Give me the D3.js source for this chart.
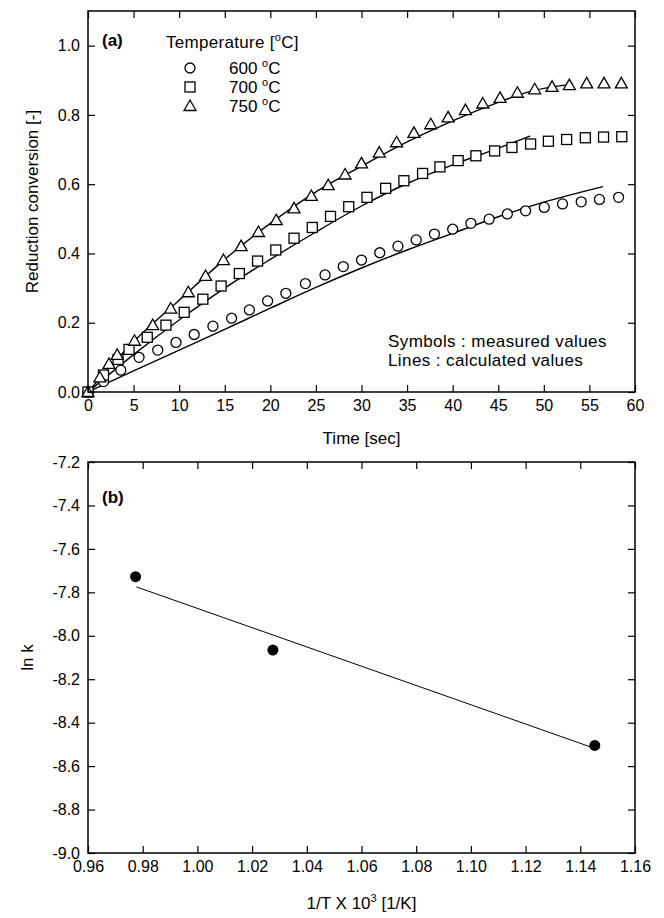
<!DOCTYPE html>
<html>
<head>
<meta charset="utf-8">
<script src="https://cdn.jsdelivr.net/npm/d3@7"></script>
<style>
  body { margin: 0; background: #fff; }
  svg { font-family: "Liberation Sans", Arial, sans-serif; }
</style>
</head>
<body>
<svg width="664" height="918"></svg>
<script>
// (a) measured conversion vs time
var t600 = [0, 1.7, 3.6, 5.6, 7.65, 9.65, 11.65, 13.7, 15.75, 17.7, 19.7, 21.7, 23.85, 26.0, 28.0, 30.0, 32.0, 34.0, 36.0, 38.0, 40.0, 42.0, 44.0, 46.0, 48.0, 50.05, 52.05, 54.1, 56.1, 58.2];
var v600 = [0, 0.030, 0.063, 0.100, 0.121, 0.143, 0.166, 0.190, 0.213, 0.237, 0.263, 0.285, 0.313, 0.338, 0.362, 0.381, 0.402, 0.421, 0.439, 0.456, 0.470, 0.487, 0.499, 0.514, 0.523, 0.533, 0.543, 0.549, 0.556, 0.562];
var t700 = [0, 1.7, 3.3, 4.5, 6.5, 8.55, 10.55, 12.6, 14.6, 16.6, 18.6, 20.6, 22.6, 24.6, 26.6, 28.6, 30.6, 32.65, 34.65, 36.7, 38.6, 40.6, 42.55, 44.6, 46.5, 48.55, 50.5, 52.5, 54.55, 56.55, 58.55];
var v700 = [0, 0.049, 0.094, 0.123, 0.158, 0.193, 0.230, 0.268, 0.306, 0.342, 0.378, 0.410, 0.444, 0.475, 0.507, 0.535, 0.562, 0.588, 0.610, 0.631, 0.650, 0.668, 0.682, 0.696, 0.706, 0.716, 0.724, 0.729, 0.734, 0.736, 0.737];
var t750 = [0, 1.3, 2.3, 3.2, 5.1, 7.1, 9.07, 11.0, 12.9, 14.85, 16.8, 18.7, 20.65, 22.6, 24.5, 26.35, 28.2, 30.0, 31.95, 33.85, 35.75, 37.6, 39.5, 41.4, 43.3, 45.2, 47.1, 49.0, 50.9, 52.8, 54.7, 56.6, 58.5];
var v750 = [0, 0.042, 0.081, 0.107, 0.148, 0.193, 0.241, 0.288, 0.335, 0.381, 0.421, 0.462, 0.496, 0.530, 0.566, 0.597, 0.628, 0.660, 0.691, 0.721, 0.748, 0.773, 0.793, 0.814, 0.833, 0.849, 0.864, 0.874, 0.881, 0.886, 0.891, 0.891, 0.891];

// (a) calculated curves
var lt600 = [0, 5, 10, 15, 20, 25, 30, 35, 40, 45, 50, 56.5];
var lv600 = [0, 0.061, 0.121, 0.181, 0.242, 0.302, 0.358, 0.410, 0.458, 0.506, 0.548, 0.593];
var lt700 = [0, 5, 10, 15, 20, 25, 30, 35, 40, 45, 48.5];
var lv700 = [0, 0.108, 0.208, 0.300, 0.383, 0.462, 0.537, 0.602, 0.656, 0.704, 0.739];
var lt750 = [0, 2.5, 5, 10, 15, 20, 25, 30, 35, 40, 45, 48.5, 53.2];
var lv750 = [0, 0.075, 0.145, 0.265, 0.383, 0.487, 0.578, 0.652, 0.722, 0.783, 0.836, 0.868, 0.889];

var tempLabels = ["600", "700", "750"];
var timeTicks = d3.range(0, 61, 5);
var convTicks = [0, 0.2, 0.4, 0.6, 0.8, 1.0];

// (b) Arrhenius plot
var invT = [0.9774, 1.0276, 1.1453];
var lnk = [-7.728, -8.066, -8.505];
var fitX = [0.9777, 1.1445];
var fitY = [-7.775, -8.515];
var invTTicks = [0.96, 0.98, 1.00, 1.02, 1.04, 1.06, 1.08, 1.10, 1.12, 1.14, 1.16];
var lnkTicks = [-7.2, -7.4, -7.6, -7.8, -8.0, -8.2, -8.4, -8.6, -8.8, -9.0];

var svg = d3.select("svg");
var left = 88, right = 635;
var tick = 7;

function box(g, top, bottom) {
  g.append("rect")
    .attr("x", left).attr("y", top)
    .attr("width", right - left).attr("height", bottom - top)
    .attr("fill", "none").attr("stroke", "#000").attr("stroke-width", 1.5);
}

function axes(g, x, y, top, bottom, xt, yt, xf, yf) {
  g.append("g").attr("transform", "translate(0," + bottom + ")")
    .call(d3.axisBottom(x).tickValues(xt).tickFormat(xf).tickSize(-tick).tickPadding(8));
  g.append("g").attr("transform", "translate(0," + top + ")")
    .call(d3.axisTop(x).tickValues(xt).tickFormat("").tickSize(-tick));
  g.append("g").attr("transform", "translate(" + left + ",0)")
    .call(d3.axisLeft(y).tickValues(yt).tickFormat(yf).tickSize(-tick).tickPadding(8));
  g.append("g").attr("transform", "translate(" + right + ",0)")
    .call(d3.axisRight(y).tickValues(yt).tickFormat("").tickSize(-tick));
  g.selectAll(".domain").remove();
  g.selectAll(".tick line").attr("stroke", "#000").attr("stroke-width", 1.2);
  g.selectAll(".tick text").attr("font-size", 16).attr("fill", "#000")
    .attr("font-family", "Liberation Sans, Arial, sans-serif");
}

// ---------- panel (a) ----------
var topA = 11, botA = 392;
var x = d3.scaleLinear().domain([0, 60]).range([left, right]);
var y = d3.scaleLinear().domain([0, 1.1]).range([botA, topA]);
var ga = svg.append("g");

var line = d3.line().x(function(d) { return x(d[0]); }).y(function(d) { return y(d[1]); })
  .curve(d3.curveMonotoneX);
[[lt600, lv600], [lt700, lv700], [lt750, lv750]].forEach(function(s) {
  ga.append("path").datum(d3.zip(s[0], s[1]))
    .attr("d", line).attr("fill", "none").attr("stroke", "#000").attr("stroke-width", 1.4);
});

function marker(g, kind, cx, cy) {
  if (kind === 0) {
    g.append("circle").attr("cx", cx).attr("cy", cy).attr("r", 5);
  } else if (kind === 1) {
    g.append("rect").attr("x", cx - 5).attr("y", cy - 5).attr("width", 10).attr("height", 10);
  } else {
    g.append("path").attr("d", "M" + cx + "," + (cy - 6) + "L" + (cx + 6) + "," + (cy + 4.5) + "L" + (cx - 6) + "," + (cy + 4.5) + "Z");
  }
}

var pts = ga.append("g").attr("fill", "#fff").attr("stroke", "#000").attr("stroke-width", 1.3);
[[t600, v600], [t700, v700], [t750, v750]].forEach(function(s, k) {
  s[0].forEach(function(t, i) { marker(pts, k, x(t), y(s[1][i])); });
});

box(ga, topA, botA);
axes(ga, x, y, topA, botA, timeTicks, convTicks, function(d) { return d; }, function(d) { return d.toFixed(1); });

ga.append("text").attr("x", (left + right) / 2).attr("y", 444).attr("text-anchor", "middle")
  .attr("font-size", 17).text("Time [sec]");
ga.append("text").attr("transform", "translate(38," + (topA + botA) / 2 + ") rotate(-90)")
  .attr("text-anchor", "middle").attr("font-size", 17).text("Reduction conversion [-]");

ga.append("text").attr("x", 102).attr("y", 46).attr("font-size", 17).attr("font-weight", "bold").text("(a)");
var tt = ga.append("text").attr("x", 166).attr("y", 48).attr("font-size", 17).attr("letter-spacing", 0.3);
tt.append("tspan").text("Temperature [");
tt.append("tspan").attr("font-size", 11).attr("dy", -7).text("o");
tt.append("tspan").attr("dy", 7).text("C]");

var leg = ga.append("g");
tempLabels.forEach(function(lab, k) {
  var cy = 68 + k * 19;
  var mg = leg.append("g").attr("fill", "#fff").attr("stroke", "#000").attr("stroke-width", 1.3);
  marker(mg, k, 190, cy);
  var lt = leg.append("text").attr("x", 229).attr("y", cy + 6).attr("font-size", 17);
  lt.append("tspan").text(lab + " ");
  lt.append("tspan").attr("font-size", 11).attr("dy", -7).text("o");
  lt.append("tspan").attr("dy", 7).text("C");
});

ga.append("text").attr("x", 388).attr("y", 347).attr("font-size", 17).attr("letter-spacing", 0.4).text("Symbols : measured values");
ga.append("text").attr("x", 388).attr("y", 366).attr("font-size", 17).attr("letter-spacing", 0.4).text("Lines : calculated values");

// ---------- panel (b) ----------
var topB = 462, botB = 853;
var xb = d3.scaleLinear().domain([0.96, 1.16]).range([left, right]);
var yb = d3.scaleLinear().domain([-9.0, -7.2]).range([botB, topB]);
var gb = svg.append("g");

gb.append("path").datum(d3.zip(fitX, fitY))
  .attr("d", d3.line().x(function(d) { return xb(d[0]); }).y(function(d) { return yb(d[1]); }))
  .attr("fill", "none").attr("stroke", "#000").attr("stroke-width", 1);

gb.selectAll("circle.pt").data(d3.zip(invT, lnk)).enter().append("circle")
  .attr("class", "pt")
  .attr("cx", function(d) { return xb(d[0]); })
  .attr("cy", function(d) { return yb(d[1]); })
  .attr("r", 5.5).attr("fill", "#000");

box(gb, topB, botB);
axes(gb, xb, yb, topB, botB, invTTicks, lnkTicks, function(d) { return d.toFixed(2); }, function(d) { return d.toFixed(1); });

gb.append("text").attr("x", 102).attr("y", 503).attr("font-size", 17).attr("font-weight", "bold").text("(b)");
gb.append("text").attr("transform", "translate(33," + (topB + botB) / 2 + ") rotate(-90)")
  .attr("text-anchor", "middle").attr("font-size", 17).text("ln k");
var xl = gb.append("text").attr("x", (left + right) / 2).attr("y", 909).attr("text-anchor", "middle").attr("font-size", 17);
xl.append("tspan").text("1/T X 10");
xl.append("tspan").attr("font-size", 11).attr("dy", -7).text("3");
xl.append("tspan").attr("dy", 7).text(" [1/K]");
</script>
</body>
</html>
